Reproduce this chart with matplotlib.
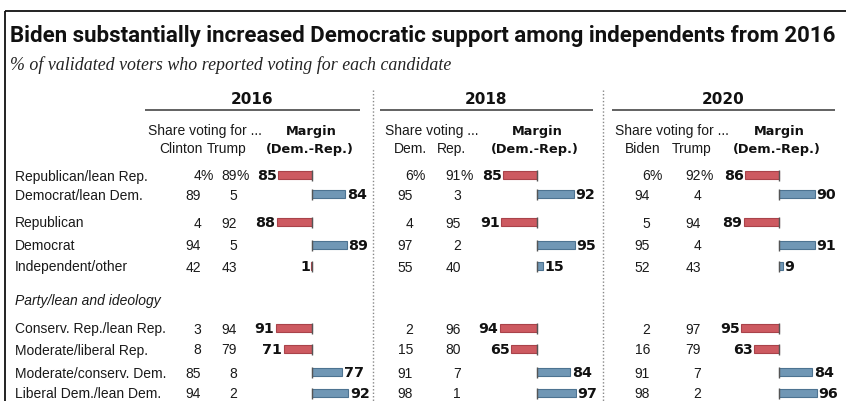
import matplotlib
matplotlib.use("Agg")
import matplotlib.pyplot as plt
from matplotlib import font_manager

# data
groups = ["Republican/lean Rep.", "Democrat/lean Dem.", "Republican", "Democrat",
          "Independent/other", "Conserv. Rep./lean Rep.", "Moderate/liberal Rep.",
          "Moderate/conserv. Dem.", "Liberal Dem./lean Dem."]
section_label = "Party/lean and ideology"
years = ["2016", "2018", "2020"]
share_headers = ["Share voting for ...", "Share voting ...", "Share voting for ..."]
candidates = [["Clinton", "Trump"], ["Dem.", "Rep."], ["Biden", "Trump"]]

dem_2016 = [4, 89, 4, 94, 42, 3, 8, 85, 94]
rep_2016 = [89, 5, 92, 5, 43, 94, 79, 8, 2]
margin_2016 = [-85, 84, -88, 89, -1, -91, -71, 77, 92]

dem_2018 = [6, 95, 4, 97, 55, 2, 15, 91, 98]
rep_2018 = [91, 3, 95, 2, 40, 96, 80, 7, 1]
margin_2018 = [-85, 92, -91, 95, 15, -94, -65, 84, 97]

dem_2020 = [6, 94, 5, 95, 52, 2, 16, 91, 98]
rep_2020 = [92, 4, 94, 4, 43, 97, 79, 7, 2]
margin_2020 = [-86, 90, -89, 91, 9, -95, -63, 84, 96]

dem_all = [dem_2016, dem_2018, dem_2020]
rep_all = [rep_2016, rep_2018, rep_2020]
margin_all = [margin_2016, margin_2018, margin_2020]

title = "Biden substantially increased Democratic support among independents from 2016"
subtitle = "% of validated voters who reported voting for each candidate"

# fonts
names = {f.name for f in font_manager.fontManager.ttflist}
def pick(*cands):
    for c in cands:
        if c in names:
            return c
    return "DejaVu Sans"

body_font = pick("Liberation Sans", "Roboto")
title_font = pick("Liberation Sans Narrow", "Roboto", "Liberation Sans")
serif_font = pick("Liberation Serif", "DejaVu Serif")
num_font = "DejaVu Sans"

RED = "#cd5a61"
RED_EDGE = "#a9434a"
BLUE = "#7097b5"
BLUE_EDGE = "#4d7391"
TXT = "#1a1a1a"

W, H = 846, 401
fig = plt.figure(figsize=(W / 100, H / 100), dpi=100)
fig.patch.set_facecolor("white")

# pixel overlay axes for text and lines
ax = fig.add_axes([0, 0, 1, 1])
ax.set_xlim(0, W)
ax.set_ylim(H, 0)
ax.axis("off")

# frame
ax.plot([5, W], [10.5, 10.5], color="#111", lw=1.3, solid_capstyle="butt")
ax.plot([5, 5], [10.5, H], color="#111", lw=1.3, solid_capstyle="butt")

# title / subtitle fitted to their widths
t = ax.text(10, 42, title, fontsize=14, fontweight="bold", family=title_font,
            color="#111", va="baseline", ha="left")
s = ax.text(10, 70, subtitle, fontsize=10, style="italic", family=serif_font,
            color="#222", va="baseline", ha="left")
fig.canvas.draw()
r = fig.canvas.get_renderer()
t.set_fontsize(14 * 828 / t.get_window_extent(r).width)
s.set_fontsize(10 * 440 / s.get_window_extent(r).width)

# layout
row_y = [175, 194, 222, 245, 266, 328, 349, 372, 393]
section_y = 300
zero_px = [311.7, 537, 779]
scale = 0.397  # px per point of margin
block = [(145, 360), (380, 593), (612, 835)]
col_right = [(201, 237), (413, 461), (650, 701)]
head_center = [(181, 227), (410, 451), (643, 692)]
share_x = [148, 385, 615]
sep_x = [373, 603]
bar_h = 8.5
fs = 10

for x in sep_x:
    ax.plot([x, x], [90, H], color="#888", lw=1, ls=(0, (1, 1.5)))

ax.text(15, section_y + 5.5, section_label, fontsize=fs, style="italic",
        family=body_font, color=TXT, va="baseline")
for lab, y in zip(groups, row_y):
    ax.text(15, y + 5.5, lab, fontsize=fs, family=body_font, color=TXT, va="baseline")

for i in range(3):
    x0, x1 = block[i]
    ax.text((x0 + x1) / 2, 104, years[i], fontsize=11, fontweight="bold",
            family=num_font, color="#111", ha="center", va="baseline")
    ax.plot([x0, x1], [110, 110], color="#555", lw=1.3, solid_capstyle="butt")
    ax.text(share_x[i], 135, share_headers[i], fontsize=fs, family=body_font,
            color=TXT, va="baseline")
    for c, cx in zip(candidates[i], head_center[i]):
        ax.text(cx, 153, c, fontsize=fs, family=body_font, color=TXT,
                ha="center", va="baseline")
    ax.text(zero_px[i], 135, "Margin", fontsize=9.3, fontweight="bold",
            family=num_font, color="#111", ha="center", va="baseline")
    ax.text(zero_px[i] - 2, 153, "(Dem.-Rep.)", fontsize=9.3, fontweight="bold",
            family=num_font, color="#111", ha="center", va="baseline")

    for k, y in enumerate(row_y):
        for vals, cx in zip((dem_all[i], rep_all[i]), col_right[i]):
            ax.text(cx, y + 5.5, str(vals[k]), fontsize=fs, family=body_font,
                    color=TXT, ha="right", va="baseline")
            if k == 0:
                ax.text(cx - 0.5, y + 5.5, "%", fontsize=fs, family=body_font,
                        color=TXT, ha="left", va="baseline")

    # bar axes in margin units
    bx = fig.add_axes([(zero_px[i] - 100 * scale) / W, 0, 200 * scale / W, 1])
    bx.set_xlim(-100, 100)
    bx.set_ylim(H, 0)
    bx.axis("off")
    m = margin_all[i]
    colors = [RED if v < 0 else BLUE for v in m]
    edges = [RED_EDGE if v < 0 else BLUE_EDGE for v in m]
    bx.barh(row_y, m, left=0, height=bar_h, color=colors, edgecolor=edges, lw=0.8)
    bx.vlines([0] * len(row_y), [y - 5.5 for y in row_y], [y + 5.5 for y in row_y],
              color="#555", lw=1)
    for v, y in zip(m, row_y):
        if v < 0:
            bx.text(v - 3, y + 5, str(abs(v)), fontsize=10.3, fontweight="bold",
                    family=num_font, color="#111", ha="right", va="baseline")
        else:
            bx.text(v + 4, y + 5, str(abs(v)), fontsize=10.3, fontweight="bold",
                    family=num_font, color="#111", ha="left", va="baseline")

fig.savefig("out.png", dpi=100, facecolor="white")
